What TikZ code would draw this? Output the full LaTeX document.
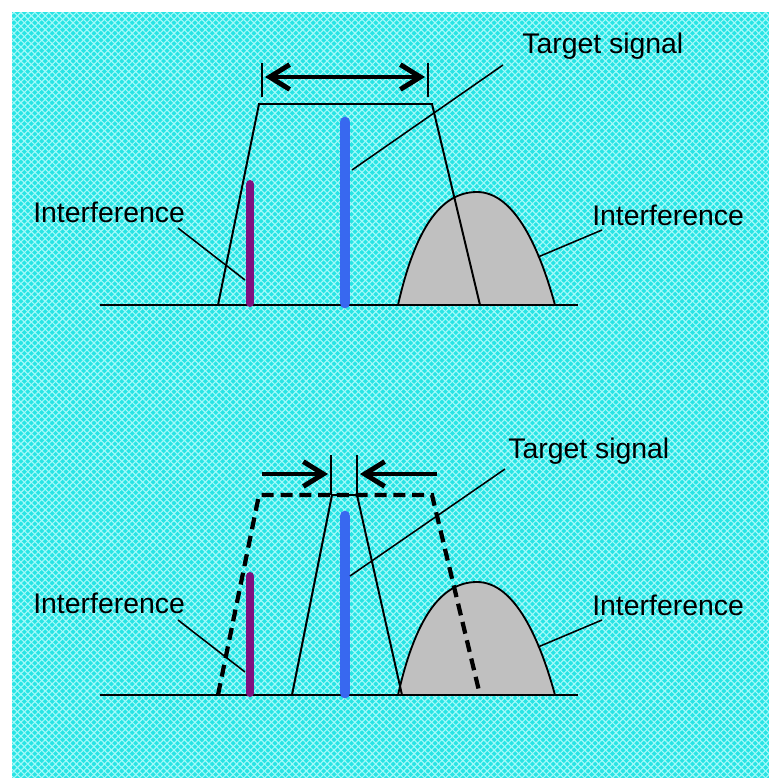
\documentclass[tikz,border=0pt]{standalone}
\usepackage{fontspec}
\setmainfont{Liberation Sans}
\usetikzlibrary{arrows.meta,patterns.meta}

\definecolor{bgcyan}{RGB}{40,228,228}
\definecolor{hatch}{RGB}{165,250,250}
\definecolor{barpurple}{RGB}{128,16,128}
\definecolor{barblue}{RGB}{56,104,240}
\definecolor{bumpgray}{RGB}{192,192,192}

\begin{document}
\begin{tikzpicture}[x=0.025cm, y=-0.025cm,
    tag/.style={font=\fontsize{20.2}{24}\selectfont, inner sep=0pt, anchor=base west},
    axisline/.style={line width=1.3pt},
    passband/.style={line width=1.4pt},
    oldband/.style={line width=3pt, dash pattern=on 0.3cm off 0.17cm},
    leader/.style={line width=1.1pt},
    tick/.style={line width=0.8pt},
    span/.style={line width=3.5pt, >={Straight Barb[length=0.5cm,width=0.62cm]}},
    bar/.style={line width=#1, line cap=round},
    bump/.style={draw, line width=1.3pt, fill=bumpgray}
  ]
    % background
    \useasboundingbox (0,0) rectangle (769,778);
    \fill[bgcyan] (12,12) rectangle (769,778);
    \fill[pattern={Lines[angle=45,distance=3.5pt,line width=0.8pt]}, pattern color=hatch] (12,12) rectangle (769,778);
    \fill[pattern={Lines[angle=-45,distance=3.5pt,line width=0.8pt]}, pattern color=hatch] (12,12) rectangle (769,778);

    % upper panel: wide filter
    \draw[bump] (398,305) .. controls (415,230) and (440,192) .. (477,192)
                .. controls (515,192) and (540,250) .. (555,305);
    \draw[axisline] (100,305) -- (578,305);
    \draw[passband] (218,305) -- (259,104) -- (432,104) -- (480,305);
    \draw[bar=0.2cm, barpurple] (250,184) -- (250,303);
    \draw[bar=0.27cm, barblue] (345,122) -- (345,303);

    \coordinate (wl1) at (262,63);  \coordinate (wl2) at (262,97);
    \coordinate (wr1) at (428,63);  \coordinate (wr2) at (428,97);
    \coordinate (wa) at (265,77);   \coordinate (wb) at (425,77);
    \draw[tick] (wl1) -- (wl2);
    \draw[tick] (wr1) -- (wr2);
    \draw[span, <->] (wa) -- (wb);

    \node[tag] (tsig1) at (522,53)  {Target signal};
    \node[tag] (intl1) at (33,222)  {Interference};
    \node[tag] (intr1) at (592,225) {Interference};

    \coordinate (tsig1pin) at (503,65);  \coordinate (blue1) at (352,170);
    \coordinate (intl1pin) at (178,228); \coordinate (purple1) at (245,280);
    \coordinate (intr1pin) at (602,230); \coordinate (bump1) at (538,257);
    \draw[leader] (tsig1pin) -- (blue1);
    \draw[leader] (intl1pin) -- (purple1);
    \draw[leader] (intr1pin) -- (bump1);

    % lower panel: narrowed filter
    \draw[bump] (398,695) .. controls (415,620) and (440,582) .. (477,582)
                .. controls (515,582) and (540,640) .. (555,695);
    \draw[axisline] (100,695) -- (578,695);
    \draw[oldband] (218,695) -- (259,495) -- (432,495) -- (480,695);
    \draw[passband] (292,695) -- (332,495) -- (357,495) -- (402,695);
    \draw[bar=0.2cm, barpurple] (250,576) -- (250,693);
    \draw[bar=0.27cm, barblue] (345,516) -- (345,693);

    \coordinate (nl1) at (331,455); \coordinate (nl2) at (331,495);
    \coordinate (nr1) at (357,455); \coordinate (nr2) at (357,495);
    \coordinate (la) at (262,474);  \coordinate (lb) at (328,474);
    \coordinate (ra) at (437,474);  \coordinate (rb) at (360,474);
    \draw[tick] (nl1) -- (nl2);
    \draw[tick] (nr1) -- (nr2);
    \draw[span, ->] (la) -- (lb);
    \draw[span, ->] (ra) -- (rb);

    \node[tag] (tsig2) at (508,458) {Target signal};
    \node[tag] (intl2) at (33,613)  {Interference};
    \node[tag] (intr2) at (592,615) {Interference};

    \coordinate (tsig2pin) at (505,469); \coordinate (blue2) at (350,576);
    \coordinate (intl2pin) at (178,620); \coordinate (purple2) at (245,672);
    \coordinate (intr2pin) at (602,620); \coordinate (bump2) at (538,647);
    \draw[leader] (tsig2pin) -- (blue2);
    \draw[leader] (intl2pin) -- (purple2);
    \draw[leader] (intr2pin) -- (bump2);
\end{tikzpicture}
\end{document}
